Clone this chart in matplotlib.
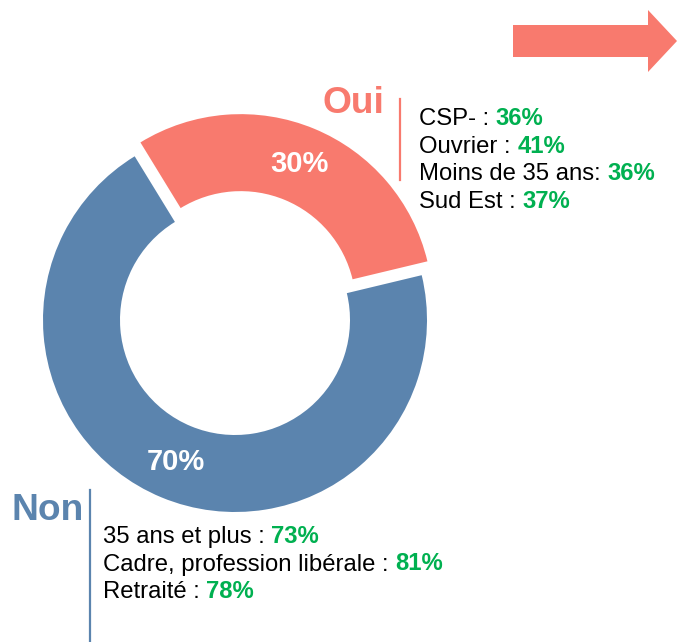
import matplotlib
matplotlib.use("Agg")
import matplotlib.pyplot as plt
import matplotlib.patches as mpatches

plt.rcParams['font.family'] = ['Liberation Sans', 'DejaVu Sans']

# --- Données ---
labels = ['Oui', 'Non']
values = [30, 70]
oui_details = ['CSP- : ', 'Ouvrier : ', 'Moins de 35 ans: ', 'Sud Est : ']
oui_pcts = ['36%', '41%', '36%', '37%']
non_details = ['35 ans et plus : ', 'Cadre, profession libérale : ', 'Retraité : ']
non_pcts = ['73%', '81%', '78%']

SALMON = '#F87A6E'
BLUE = '#5B84AE'
GREEN = '#00B050'

W, H = 677, 642
def Y(y): return H - y

fig = plt.figure(figsize=(W / 100, H / 100), dpi=100)
ax = fig.add_axes([0, 0, 1, 1])

# --- Donut ---  (explode est en unités absolues ici)
wedges, texts, autotexts = ax.pie(
    values, colors=[SALMON, BLUE], startangle=13.5, counterclock=True,
    center=(235, Y(320)), radius=192, explode=[15, 0],
    wedgeprops=dict(width=77, edgecolor='none'),
    autopct='%d%%', pctdistance=0.8, frame=True,
    textprops=dict(color='white', fontsize=21, fontweight='bold'))
ax.set_xlim(0, W)
ax.set_ylim(0, H)
ax.set_aspect('equal')
ax.axis('off')

# --- Flèche ---
ax.add_patch(mpatches.FancyArrow(513, Y(41), 164, 0, width=32, head_width=62,
                                 head_length=29, length_includes_head=True,
                                 color=SALMON, lw=0))

# --- Blocs de texte ---
def detail_block(x, y0, step, details, pcts):
    for i, (d, p) in enumerate(zip(details, pcts)):
        t = ax.text(x, Y(y0 + i * step), d, fontsize=17.2, color='black',
                    va='baseline', ha='left')
        ax.annotate(p, xy=(1, 0), xycoords=t, va='bottom', ha='left',
                    fontsize=17.2, fontweight='bold', color=GREEN)

ax.text(322, Y(113), labels[0], fontsize=26.7, fontweight='bold', color=SALMON,
        va='baseline', ha='left')
ax.plot([400, 400], [Y(99), Y(180)], color=SALMON, lw=1.6)
detail_block(419, 125, 27.7, oui_details, oui_pcts)

ax.text(12, Y(520), labels[1], fontsize=26.7, fontweight='bold', color=BLUE,
        va='baseline', ha='left')
ax.plot([90, 90], [Y(490), Y(642)], color=BLUE, lw=1.6)
detail_block(103, 543, 27.5, non_details, non_pcts)

fig.savefig('out.png', dpi=100)
